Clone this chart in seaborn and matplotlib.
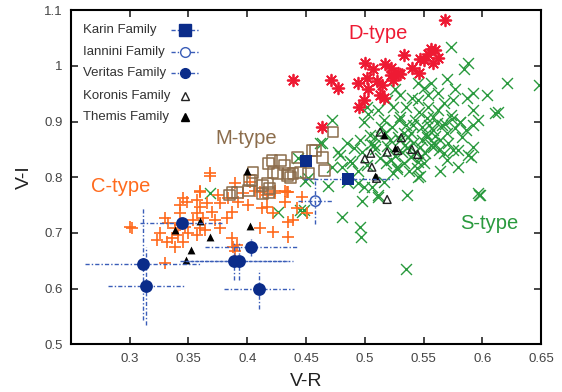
import matplotlib
matplotlib.use("Agg")
import matplotlib.pyplot as plt
import seaborn as sns
import numpy as np

sns.set_style("ticks")
plt.rcParams['font.family'] = ['Liberation Sans', 'DejaVu Sans']

# ---------------- data ----------------
d_x = [0.5686, 0.533, 0.556, 0.560, 0.554, 0.562, 0.558, 0.550, 0.547, 0.540, 0.546, 0.517,
       0.522, 0.528, 0.530, 0.522, 0.524, 0.515, 0.513, 0.516, 0.471, 0.477, 0.500, 0.494,
       0.502, 0.503, 0.499, 0.495, 0.464, 0.439, 0.507, 0.510]
d_y = [1.083, 1.019, 1.031, 1.028, 1.022, 1.015, 1.006, 1.010, 1.013, 0.996, 0.988, 1.004,
       0.996, 0.988, 0.986, 0.983, 0.974, 0.965, 0.947, 0.942, 0.974, 0.961, 1.006, 0.970,
       0.979, 0.959, 0.938, 0.926, 0.890, 0.974, 0.995, 0.972]

s_x = [0.573, 0.588, 0.584, 0.570, 0.621, 0.648, 0.592, 0.604, 0.587, 0.577, 0.556, 0.550,
       0.545, 0.526, 0.530, 0.540, 0.545, 0.554, 0.562, 0.567, 0.575, 0.592, 0.613, 0.596,
       0.592, 0.581, 0.573, 0.562, 0.554, 0.546, 0.535, 0.524, 0.519, 0.511, 0.502, 0.503,
       0.499, 0.472, 0.464, 0.477, 0.485, 0.496, 0.498, 0.509, 0.516, 0.523, 0.530, 0.535,
       0.539, 0.543, 0.549, 0.553, 0.558, 0.564, 0.570, 0.577, 0.586, 0.592, 0.579, 0.567,
       0.558, 0.547, 0.536, 0.530, 0.539, 0.533, 0.522, 0.513, 0.502, 0.494, 0.485, 0.479,
       0.472, 0.452, 0.462, 0.550, 0.564, 0.570, 0.579, 0.590, 0.596, 0.536, 0.511, 0.499,
       0.494, 0.516, 0.524, 0.545, 0.498, 0.511, 0.598, 0.481, 0.496, 0.497, 0.535, 0.447,
       0.611, 0.588, 0.597, 0.547, 0.575, 0.581, 0.443, 0.449, 0.469, 0.481, 0.506, 0.426,
       0.448, 0.368, 0.445, 0.528, 0.541, 0.519, 0.532, 0.545, 0.556, 0.527, 0.517, 0.509,
       0.538, 0.551, 0.561, 0.505, 0.489, 0.558, 0.568,
       0.521, 0.526, 0.534, 0.537, 0.543, 0.549, 0.552, 0.559, 0.563, 0.571, 0.574, 0.583,
       0.514, 0.518, 0.529, 0.533, 0.541, 0.548, 0.555, 0.560, 0.566, 0.508, 0.504, 0.491,
       0.487, 0.527, 0.544, 0.553]
s_y = [1.033, 1.006, 0.995, 0.977, 0.970, 0.965, 0.951, 0.947, 0.942, 0.959, 0.969, 0.961,
       0.970, 0.959, 0.947, 0.943, 0.938, 0.947, 0.951, 0.933, 0.938, 0.920, 0.917, 0.902,
       0.893, 0.899, 0.911, 0.920, 0.926, 0.917, 0.926, 0.926, 0.938, 0.920, 0.926, 0.914,
       0.899, 0.902, 0.861, 0.845, 0.861, 0.866, 0.845, 0.872, 0.902, 0.890, 0.908, 0.893,
       0.879, 0.902, 0.890, 0.872, 0.884, 0.866, 0.879, 0.888, 0.884, 0.854, 0.848, 0.843,
       0.854, 0.854, 0.852, 0.866, 0.836, 0.825, 0.830, 0.834, 0.821, 0.812, 0.791, 0.839,
       0.818, 0.798, 0.861, 0.825, 0.812, 0.830, 0.818, 0.836, 0.771, 0.768, 0.768, 0.782,
       0.789, 0.791, 0.807, 0.800, 0.757, 0.764, 0.768, 0.728, 0.710, 0.692, 0.635, 0.737,
       0.915, 0.839, 0.768, 0.803, 0.848, 0.899, 0.834, 0.794, 0.785, 0.818, 0.782, 0.737,
       0.741, 0.771, 0.741, 0.873, 0.862, 0.856, 0.845, 0.828, 0.858, 0.815, 0.880, 0.850,
       0.812, 0.843, 0.897, 0.860, 0.826, 0.908, 0.896,
       0.866, 0.838, 0.858, 0.872, 0.846, 0.866, 0.878, 0.862, 0.849, 0.862, 0.904, 0.872,
       0.890, 0.826, 0.903, 0.880, 0.893, 0.838, 0.893, 0.874, 0.893, 0.858, 0.876, 0.852,
       0.829, 0.818, 0.817, 0.906]

c_x = [0.368, 0.302, 0.330, 0.343, 0.349, 0.357, 0.360, 0.366, 0.370, 0.377, 0.375, 0.384,
       0.387, 0.392, 0.396, 0.401, 0.407, 0.413, 0.417, 0.424, 0.432, 0.435, 0.422, 0.411,
       0.391, 0.388, 0.387, 0.330, 0.333, 0.339, 0.323, 0.336, 0.341, 0.345, 0.339, 0.343,
       0.347, 0.354, 0.360, 0.357, 0.364, 0.377, 0.383, 0.373, 0.357, 0.362, 0.360, 0.390,
       0.402, 0.422, 0.442, 0.439, 0.345, 0.332, 0.326, 0.343, 0.350, 0.411, 0.434, 0.432,
       0.417, 0.447, 0.300, 0.390, 0.435, 0.451, 0.368, 0.424, 0.435, 0.360]
c_y = [0.803, 0.708, 0.645, 0.750, 0.755, 0.759, 0.746, 0.753, 0.737, 0.753, 0.768, 0.762,
       0.737, 0.755, 0.771, 0.750, 0.776, 0.744, 0.768, 0.771, 0.776, 0.719, 0.701, 0.708,
       0.678, 0.674, 0.690, 0.726, 0.717, 0.708, 0.687, 0.690, 0.696, 0.683, 0.674, 0.735,
       0.710, 0.723, 0.708, 0.696, 0.705, 0.708, 0.726, 0.723, 0.735, 0.726, 0.776, 0.789,
       0.791, 0.735, 0.744, 0.723, 0.762, 0.683, 0.699, 0.714, 0.699, 0.773, 0.773, 0.755,
       0.746, 0.764, 0.710, 0.668, 0.692, 0.735, 0.807, 0.776, 0.773, 0.773]

m_x = [0.421, 0.428, 0.418, 0.443, 0.464, 0.458, 0.466, 0.452, 0.422, 0.426, 0.435, 0.437,
       0.405, 0.402, 0.413, 0.419, 0.418, 0.413, 0.401, 0.387, 0.392, 0.385, 0.473, 0.455,
       0.434, 0.404, 0.439, 0.445, 0.417, 0.432]
m_y = [0.830, 0.830, 0.825, 0.836, 0.836, 0.848, 0.812, 0.807, 0.809, 0.807, 0.807, 0.800,
       0.809, 0.794, 0.785, 0.780, 0.773, 0.771, 0.776, 0.773, 0.773, 0.768, 0.881, 0.848,
       0.803, 0.794, 0.807, 0.809, 0.789, 0.822]

koronis_x = [0.513, 0.505, 0.519, 0.528, 0.545, 0.506, 0.510, 0.519, 0.531, 0.540, 0.500]
koronis_y = [0.881, 0.843, 0.845, 0.848, 0.841, 0.818, 0.798, 0.760, 0.871, 0.850, 0.833]

themis_x = [0.360, 0.339, 0.368, 0.352, 0.348, 0.402, 0.400, 0.516, 0.526, 0.509]
themis_y = [0.721, 0.706, 0.692, 0.669, 0.651, 0.713, 0.811, 0.876, 0.852, 0.803]

karin_x = [0.450, 0.486]
karin_y = [0.829, 0.796]
karin_xerr = [0.004, 0.038]
karin_yerr = [0.004, 0.004]

iannini_x = [0.458]
iannini_y = [0.757]
iannini_xerr = [0.015]
iannini_yerr = [0.042]

veritas_x = [0.3445, 0.311, 0.314, 0.389, 0.393, 0.403, 0.410]
veritas_y = [0.717, 0.644, 0.604, 0.649, 0.649, 0.674, 0.599]
veritas_xerr = [0.036, 0.049, 0.032, 0.046, 0.046, 0.039, 0.030]
veritas_yerr = [0.010, 0.100, 0.070, 0.034, 0.034, 0.015, 0.035]

legend_labels = ["Karin Family", "Iannini Family", "Veritas Family", "Koronis Family", "Themis Family"]
type_labels = ["C-type", "M-type", "D-type", "S-type"]

# ---------------- style ----------------
C_COL = "#ff6a1c"
M_COL = "#8c6d4c"
D_COL = "#ee1a33"
S_COL = "#2a9a3e"
NAVY = "#0b2c8a"
ERR = "#3a5db8"

fig = plt.figure(figsize=(5.62, 3.92), dpi=100)
ax = fig.add_axes([0.126, 0.122, 0.837, 0.852])

sns.scatterplot(x=s_x, y=s_y, marker="x", color=S_COL, s=62, linewidth=1.0, ax=ax, zorder=2)
sns.scatterplot(x=c_x, y=c_y, marker="+", color=C_COL, s=70, linewidth=1.2, ax=ax, zorder=3)
sns.scatterplot(x=d_x, y=d_y, marker=(8, 2, 0), color=D_COL, s=70, linewidth=1.3, ax=ax, zorder=3)
sns.scatterplot(x=m_x, y=m_y, marker="s", color=M_COL, s=60, linewidth=1.1, ax=ax, zorder=4)
ax.collections[-1].set_facecolor("none")
ax.collections[-1].set_edgecolor(M_COL)
sns.scatterplot(x=koronis_x, y=koronis_y, marker="^", color="#333333", s=32, linewidth=1.0, ax=ax, zorder=5)
ax.collections[-1].set_facecolor("none")
ax.collections[-1].set_edgecolor("#222222")
sns.scatterplot(x=themis_x, y=themis_y, marker="^", color="black", s=32, linewidth=0, ax=ax, zorder=5)

def ebars(x, y, xe, ye):
    eb = ax.errorbar(x, y, xerr=xe, yerr=ye, fmt="none", ecolor=ERR, elinewidth=1.0, capsize=0, zorder=6)
    for lc in eb[2]:
        lc.set_linestyle((0, (3, 1.5, 1, 1.5)))

ebars(karin_x, karin_y, karin_xerr, karin_yerr)
ebars(iannini_x, iannini_y, iannini_xerr, iannini_yerr)
ebars(veritas_x, veritas_y, veritas_xerr, veritas_yerr)

sns.scatterplot(x=karin_x, y=karin_y, marker="s", color=NAVY, s=70, linewidth=0, ax=ax, zorder=7)
sns.scatterplot(x=iannini_x, y=iannini_y, marker="o", color=ERR, s=55, linewidth=1.1, ax=ax, zorder=7)
ax.collections[-1].set_facecolor("none")
ax.collections[-1].set_edgecolor(ERR)
sns.scatterplot(x=veritas_x, y=veritas_y, marker="o", color=NAVY, s=85, linewidth=0, ax=ax, zorder=7)

# type labels
ax.text(0.292, 0.783, type_labels[0], color=C_COL, fontsize=14.5, ha="center", va="center")
ax.text(0.399, 0.870, type_labels[1], color=M_COL, fontsize=14.5, ha="center", va="center")
ax.text(0.511, 1.058, type_labels[2], color=D_COL, fontsize=14.5, ha="center", va="center")
ax.text(0.606, 0.717, type_labels[3], color=S_COL, fontsize=14.5, ha="center", va="center")

# manual legend (axes coordinates)
rows = [0.940, 0.874, 0.811, 0.743, 0.680]
for i, (lab, yy) in enumerate(zip(legend_labels, rows)):
    ax.text(0.026, yy, lab, transform=ax.transAxes, fontsize=9.5, color="#333333", va="center", ha="left")
mx = 0.243
ax.plot([0.213, 0.275], [rows[0]] * 2, transform=ax.transAxes, color=ERR, lw=1, ls=(0, (3, 1.5, 1, 1.5)))
ax.plot([mx], [rows[0]], transform=ax.transAxes, marker="s", color=NAVY, ms=8, ls="none")
ax.plot([0.213, 0.275], [rows[1]] * 2, transform=ax.transAxes, color=ERR, lw=1, ls=(0, (3, 1.5, 1, 1.5)))
ax.plot([mx], [rows[1]], transform=ax.transAxes, marker="o", mfc="white", mec=ERR, ms=7, ls="none")
ax.plot([0.213, 0.275], [rows[2]] * 2, transform=ax.transAxes, color=ERR, lw=1, ls=(0, (3, 1.5, 1, 1.5)))
ax.plot([mx], [rows[2]], transform=ax.transAxes, marker="o", color=NAVY, ms=7, ls="none")
ax.plot([mx], [rows[3]], transform=ax.transAxes, marker="^", mfc="none", mec="#222222", ms=6, ls="none")
ax.plot([mx], [rows[4]], transform=ax.transAxes, marker="^", color="black", ms=6, ls="none")

# axes
ax.set_xlim(0.25, 0.65)
ax.set_ylim(0.5, 1.1)
ax.set_xticks([0.25, 0.3, 0.35, 0.4, 0.45, 0.5, 0.55, 0.6, 0.65])
ax.set_xticklabels(["", "0.3", "0.35", "0.4", "0.45", "0.5", "0.55", "0.6", "0.65"])
ax.set_yticks([0.5, 0.6, 0.7, 0.8, 0.9, 1.0, 1.1])
ax.set_yticklabels(["0.5", "0.6", "0.7", "0.8", "0.9", "1", "1.1"])
ax.tick_params(direction="in", top=True, right=True, length=5, width=1.2, labelsize=9.5,
               labelcolor="#444444", pad=6)
for sp in ax.spines.values():
    sp.set_linewidth(1.5)
    sp.set_color("black")
ax.set_xlabel("V-R", fontsize=14, color="#222222", labelpad=6)
ax.set_ylabel("V-I", fontsize=14, color="#222222", labelpad=8)

fig.savefig("out.png", dpi=100)
